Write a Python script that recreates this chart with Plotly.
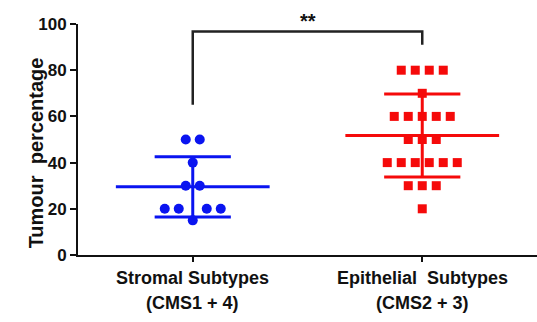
import numpy as np
import plotly.graph_objects as go

# ---- data ----
categories = ["Stromal Subtypes", "Epithelial  Subtypes"]
sub_labels = ["(CMS1 + 4)", "(CMS2 + 3)"]
stromal = [50, 50, 40, 30, 30, 20, 20, 20, 20, 15]
epithelial = [80, 80, 80, 80, 70, 60, 60, 60, 60, 60, 50, 50, 50,
              40, 40, 40, 40, 40, 40, 30, 30, 30, 20]
y_ticks = [0, 20, 40, 60, 80, 100]
sig_text = "**"

# ---- layout constants ----
W, H = 537, 322
ML, MR, MT, MB = 78, 0, 24, 67
XR = [-0.5, 1.5]
YR = [0, 100]
px_x = (W - ML - MR) / (XR[1] - XR[0])
px_y = (H - MT - MB) / (YR[1] - YR[0])
spacing_px = 14.0
FONT = "Arial, Liberation Sans, sans-serif"


def swarm(values, center):
    """Simple row-based beeswarm: points of equal value share a row."""
    placed = []  # (x_px, y_px)
    xs_out = {}
    uniq = sorted(set(values))
    for v in uniq:
        n = values.count(v)
        yp = v * px_y
        base = [(i - (n - 1) / 2) * spacing_px for i in range(n)]

        def collides(cands):
            for cx in cands:
                for (px, py) in placed:
                    if np.hypot(cx - px, yp - py) < spacing_px:
                        return True
            return False

        cand = base
        if collides(cand):
            cand = [b + np.sign(b) * spacing_px / 2 if b != 0 else b for b in base]
        for cx in cand:
            placed.append((cx, yp))
        xs_out[v] = [center + cx / px_x for cx in cand]
    xs, ys = [], []
    for v in uniq:
        for xx in xs_out[v]:
            xs.append(xx)
            ys.append(v)
    return xs, ys


fig = go.Figure()

groups = [
    (stromal, 0, "#0a14f0", "circle", 10),
    (epithelial, 1, "#f50a0a", "square", 9),
]

mean_half = 0.335
cap_half = 0.166
for vals, c, col, sym, sz in groups:
    xs, ys = swarm(vals, c)
    fig.add_trace(go.Scatter(x=xs, y=ys, mode="markers",
                             marker=dict(color=col, symbol=sym, size=sz,
                                         line=dict(width=0)),
                             showlegend=False, cliponaxis=False))
    m = float(np.mean(vals))
    sd = float(np.std(vals, ddof=1))
    # mean line
    fig.add_trace(go.Scatter(x=[c - mean_half, c + mean_half], y=[m, m],
                             mode="lines", line=dict(color=col, width=3),
                             showlegend=False))
    # sd vertical + caps
    fig.add_trace(go.Scatter(
        x=[c, c, None, c - cap_half, c + cap_half, None, c - cap_half, c + cap_half],
        y=[m - sd, m + sd, None, m + sd, m + sd, None, m - sd, m - sd],
        mode="lines", line=dict(color=col, width=3), showlegend=False))

# significance bracket
br_top = 96.7
br_left_bottom = 65
br_right_bottom = 91
fig.add_trace(go.Scatter(x=[0, 0, 1, 1],
                         y=[br_left_bottom, br_top, br_top, br_right_bottom],
                         mode="lines", line=dict(color="#222222", width=2.5),
                         showlegend=False))

annotations = [
    dict(x=0.5, y=br_top, xref="x", yref="y", text=sig_text, showarrow=False,
         yanchor="bottom", yshift=-2, font=dict(family=FONT, size=20, color="#111111", weight="bold")),
    dict(x=0, y=0.44, xref="paper", yref="paper", text="Tumour\u00a0 percentage",
         textangle=-90, showarrow=False, xshift=-55,
         font=dict(family=FONT, size=20, color="#111111", weight="bold")),
]
for i, (cat, sub) in enumerate(zip(categories, sub_labels)):
    annotations.append(dict(x=i, y=0, xref="x", yref="paper", text=cat.replace("  ", "\u00a0 "),
                            showarrow=False, yanchor="middle", yshift=-23,
                            font=dict(family=FONT, size=18, color="#111111", weight="bold")))
    annotations.append(dict(x=i, y=0, xref="x", yref="paper", text=sub,
                            showarrow=False, yanchor="middle", yshift=-48,
                            font=dict(family=FONT, size=18, color="#111111", weight="bold")))

fig.update_layout(
    width=W, height=H,
    margin=dict(l=ML, r=MR, t=MT, b=MB),
    paper_bgcolor="white", plot_bgcolor="white",
    annotations=annotations,
    xaxis=dict(range=XR, tickvals=[0, 1], showticklabels=False,
               showline=True, linecolor="#111111", linewidth=2,
               ticks="outside", ticklen=5, tickwidth=2, tickcolor="#111111",
               showgrid=False, zeroline=False),
    yaxis=dict(range=YR, tickvals=y_ticks,
               showline=True, linecolor="#111111", linewidth=2,
               ticks="outside", ticklen=6, tickwidth=2, tickcolor="#111111",
               tickfont=dict(family=FONT, size=17, color="#111111", weight="bold"),
               showgrid=False, zeroline=False),
)

fig.write_html("out.html")
